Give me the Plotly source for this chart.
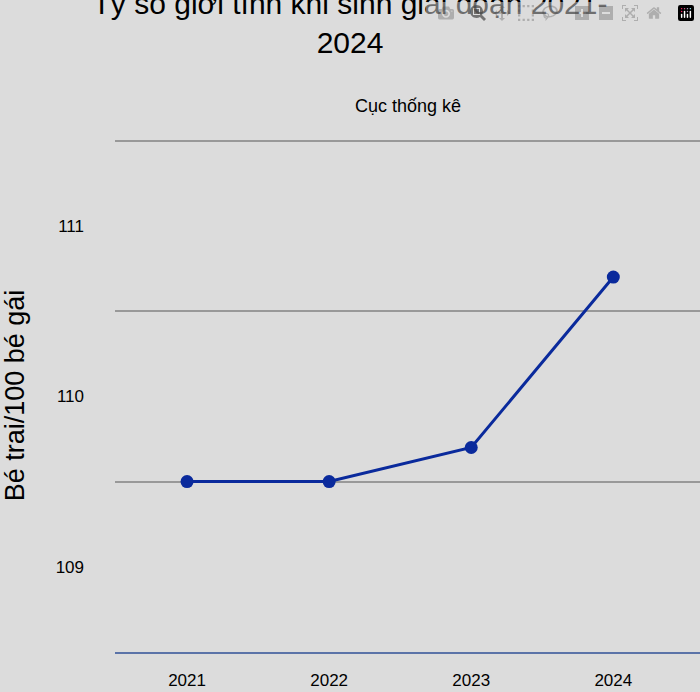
import plotly.graph_objects as go

years = ['2021', '2022', '2023', '2024']
ratio = [109.5, 109.5, 109.7, 110.7]
y_ticks = [109, 110, 111]
y_grid = [108.5, 109.5, 110.5, 111.5]

fig = go.Figure()
fig.add_trace(go.Scatter(x=list(range(len(years))), y=ratio, mode='lines+markers',
                         line=dict(color='#0a2a9c', width=3),
                         marker=dict(size=13, color='#0a2a9c')))

fig.update_layout(
    width=700, height=692,
    paper_bgcolor='#dcdcdc', plot_bgcolor='#dcdcdc',
    margin=dict(l=115, r=0, t=139, b=40),
    showlegend=False,
    font=dict(family='Liberation Sans, Arial', color='black'),
    title=dict(text='Tỷ số giới tính khi sinh giai đoạn 2021-<br>2024',
               x=0.5, xanchor='center', y=0.98, yanchor='top',
               font=dict(size=30)),
    annotations=[dict(text='Cục thống kê', x=0.5, xref='paper', xanchor='center',
                      y=1.065, yref='paper', yanchor='middle', showarrow=False,
                      font=dict(size=18))],
)

fig.update_xaxes(tickvals=list(range(len(years))), ticktext=years,
                 range=[-0.507, 3.61], showgrid=False, zeroline=False,
                 showline=True, linecolor='#5b73a8', linewidth=1.5,
                 tickfont=dict(size=17), ticks='', ticklabelstandoff=12)
fig.update_yaxes(range=[108.5, 111.51], tickvals=y_ticks, showgrid=False,
                 zeroline=False, tickfont=dict(size=17), ticks='',
                 ticklabelstandoff=30,
                 title=dict(text='Bé trai/100 bé gái', font=dict(size=27), standoff=28),
                 minor=dict(tickvals=y_grid, showgrid=True, gridcolor='#999999',
                            gridwidth=1.5, ticks=''))

fig.write_html('out.html', post_script="document.body.style.margin='0';")
